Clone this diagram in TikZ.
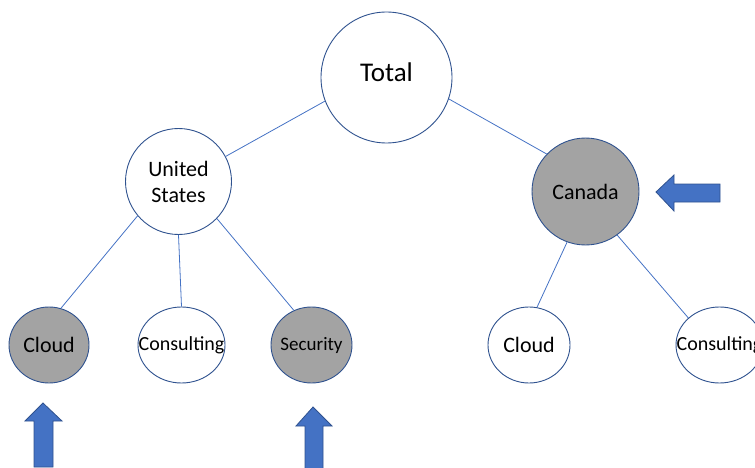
\documentclass[tikz,border=0pt]{standalone}
\usepackage{fontspec}
\setmainfont{Carlito}
\usetikzlibrary{shapes.geometric}
\definecolor{edgeblue}{RGB}{68,114,196}
\definecolor{rimblue}{RGB}{47,82,143}
\definecolor{nodegray}{RGB}{163,163,163}
\newcommand{\zerow}[1]{\makebox[0pt]{#1}}
\tikzset{
  big/.style={circle,draw=rimblue,line width=0.9pt,inner sep=0pt,fill=white,align=center,text=black},
  leaf/.style={ellipse,draw=rimblue,line width=0.9pt,inner sep=0pt,minimum height=76pt,fill=white,text=black},
  hl/.style={fill=nodegray},
  conn/.style={draw=edgeblue,line width=0.8pt},
  bigarrow/.style={fill=edgeblue,draw=rimblue,line width=0.8pt,line join=miter}
}
\begin{document}
\begin{tikzpicture}[x=1pt,y=-1pt]
\useasboundingbox (0,0) rectangle (755,468);
\clip (0,0) rectangle (755,468);
\node[big,minimum size=131pt,font=\fontsize{27}{30}\selectfont] (total) at (386.5,77.5) {\raisebox{5pt}[\height][\depth]{Total}};
\node[big,minimum size=106pt,font=\fontsize{22}{26}\selectfont] (us) at (178.5,181.5) {United\\States};
\node[big,hl,minimum size=107pt,font=\fontsize{22}{26}\selectfont] (ca) at (585.5,191.5) {Canada};
\node[leaf,hl,minimum width=80pt,font=\fontsize{22}{26}\selectfont] (uscloud) at (49,345) {\zerow{Cloud}};
\node[leaf,minimum width=87pt,font=\fontsize{20}{24}\selectfont] (uscons) at (181.5,345) {\zerow{Consulting}};
\node[leaf,hl,minimum width=81pt,font=\fontsize{19}{23}\selectfont] (ussec) at (311.5,345) {\zerow{Security}};
\node[leaf,minimum width=82pt,font=\fontsize{22}{26}\selectfont] (cacloud) at (529,345) {\zerow{Cloud}};
\node[leaf,minimum width=87pt,font=\fontsize{20}{24}\selectfont] (cacons) at (719.5,345) {\zerow{Consulting}};
\draw[conn] (total.201) -- (us.28);
\draw[conn] (total.-19) -- (ca.136);
\draw[conn] (us.220) -- (uscloud.72);
\draw[conn] (us.south) -- (uscons.north);
\draw[conn] (us.-44) -- (ussec.117);
\draw[conn] (ca.-110) -- (cacloud.78);
\draw[conn] (ca.-54) -- (cacons.139);
% highlight arrows
\draw[bigarrow] (656,192) -- (674,175) -- (674,184) -- (720,184) -- (720,202) -- (674,202) -- (674,211) -- cycle;
\draw[bigarrow] (43,403) -- (62,421) -- (53,421) -- (53,467) -- (34,467) -- (34,421) -- (25,421) -- cycle;
\draw[bigarrow] (313,407) -- (332,426) -- (323,426) -- (323,475) -- (305,475) -- (305,426) -- (296,426) -- cycle;
\end{tikzpicture}
\end{document}
